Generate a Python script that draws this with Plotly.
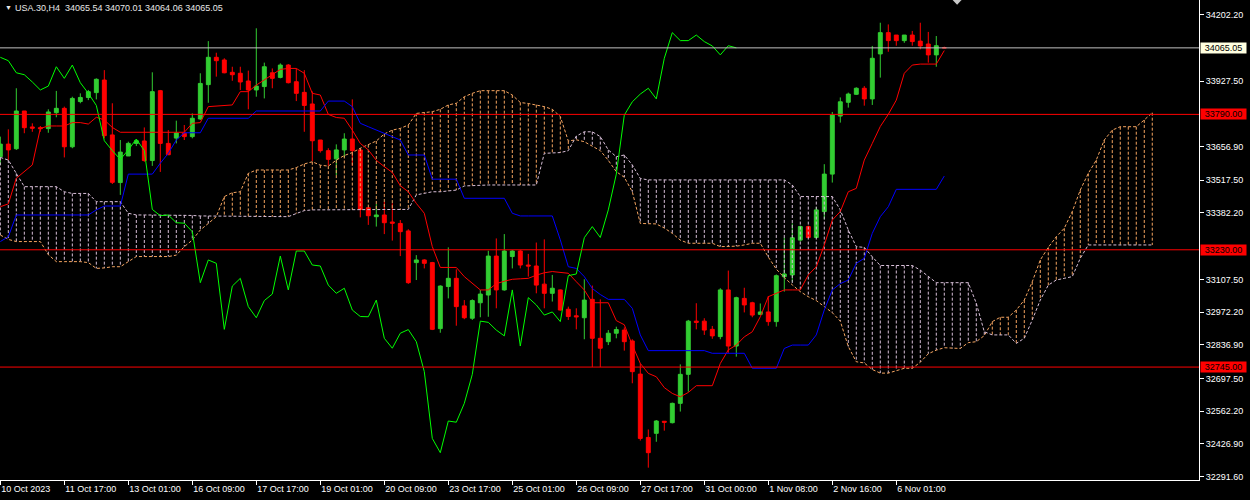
import plotly.graph_objects as go

# ---------------- data ----------------
opens = [33615, 33667, 33648, 33804, 33738, 33735, 33731, 33797, 33815, 33656,
         33843, 33860, 33880, 33932, 33705, 33508, 33618, 33670, 33680, 33599,
         33888, 33670, 33692, 33712, 33698, 33771, 33913, 34026, 34015, 33964,
         33960, 33928, 33891, 33905, 33962, 33943, 33994, 33925, 33881, 33833,
         33684, 33640, 33606, 33643, 33688, 33643, 33404, 33367, 33374, 33345,
         33339, 33308, 33177, 33188, 33177, 32904, 33078, 33112, 32998, 32947,
         33011, 33043, 33204, 33064, 33202, 33225, 33167, 33163, 33088, 33050,
         33064, 32984, 32957, 32949, 33025, 32864, 32850, 32885, 32898, 32853,
         32716, 32454, 32471, 32521, 32515, 32595, 32715, 32935, 32935, 32901,
         32871, 33064, 32832, 33029, 33011, 32963, 32973, 32933, 33119, 33126,
         33270, 33326, 33281, 33388, 33543, 33783, 33840, 33873, 33898, 33854,
         34040, 34128, 34118, 34095, 34118, 34093, 34081, 34036, 34065.54]
highs = [33698, 33728, 33898, 33804, 33753, 33742, 33811, 33887, 33822, 33863,
         33877, 33891, 33939, 33973, 33836, 33684, 33677, 33687, 33736, 33964,
         33891, 33725, 33764, 33746, 33794, 33960, 34093, 34045, 34022, 33987,
         33987, 33971, 34146, 34004, 33980, 34001, 33998, 33980, 33973, 33885,
         33684, 33650, 33666, 33712, 33852, 33650, 33404, 33419, 33429, 33422,
         33353, 33315, 33208, 33191, 33180, 33083, 33240, 33149, 33022, 33025,
         33064, 33226, 33277, 33295, 33229, 33229, 33213, 33260, 33273, 33126,
         33066, 32995, 32988, 33108, 33082, 33025, 32898, 32912, 32909, 32860,
         32760, 32487, 32526, 32522, 32598, 32756, 32940, 33009, 32947, 32915,
         33071, 33144, 33036, 33073, 33015, 33008, 33039, 33128, 33281, 33339,
         33330, 33330, 33406, 33584, 33800, 33860, 33880, 33902, 33907, 34073,
         34169, 34162, 34118, 34118, 34135, 34169, 34131, 34114, 34070.01]
lows = [33581, 33601, 33643, 33712, 33718, 33718, 33714, 33778, 33612, 33650,
        33836, 33849, 33852, 33691, 33502, 33457, 33618, 33659, 33594, 33577,
        33552, 33622, 33670, 33684, 33691, 33767, 33838, 33946, 33960, 33929,
        33891, 33811, 33863, 33856, 33898, 33939, 33918, 33845, 33718, 33597,
        33632, 33577, 33539, 33612, 33577, 33364, 33333, 33326, 33295, 33268,
        33204, 33089, 33105, 33153, 32898, 32887, 33029, 32916, 32943, 32940,
        32951, 32953, 32988, 33061, 33153, 33153, 33119, 33050, 32988, 33016,
        32978, 32940, 32901, 32860, 32745, 32745, 32836, 32864, 32813, 32678,
        32441, 32329, 32436, 32482, 32512, 32561, 32643, 32901, 32878, 32862,
        32860, 32804, 32788, 32971, 32951, 32960, 32916, 32912, 33057, 33098,
        33264, 33277, 33277, 33356, 33508, 33756, 33818, 33870, 33826, 33829,
        33942, 34049, 34074, 34086, 34074, 34059, 34004, 33987, 34064.06]
closes = [33667, 33643, 33804, 33735, 33733, 33731, 33800, 33815, 33656, 33856,
          33860, 33884, 33935, 33702, 33509, 33634, 33670, 33681, 33599, 33884,
          33670, 33623, 33713, 33698, 33774, 33918, 34026, 34012, 33962, 33954,
          33924, 33891, 33907, 33987, 33939, 33994, 33921, 33877, 33827, 33681,
          33640, 33604, 33643, 33688, 33640, 33397, 33371, 33374, 33342, 33340,
          33305, 33094, 33188, 33174, 32901, 33080, 33112, 32995, 32949, 33020,
          33047, 33204, 33064, 33225, 33225, 33167, 33163, 33084, 33050, 33071,
          32981, 32954, 32953, 33022, 32864, 32823, 32885, 32900, 32850, 32726,
          32450, 32391, 32522, 32517, 32595, 32715, 32935, 32930, 32898, 32874,
          33064, 32832, 33032, 33002, 32960, 32973, 32933, 33123, 33130, 33280,
          33326, 33281, 33395, 33543, 33787, 33842, 33874, 33898, 33854, 34022,
          34128, 34095, 34095, 34118, 34091, 34073, 34036, 34074, 34065.05]

tenkan = [33408, 33420, 33526, 33555, 33581, 33732, 33742, 33742, 33742, 33756,
          33756, 33750, 33778, 33767, 33736, 33716, 33716, 33716, 33716, 33716,
          33716, 33716, 33716, 33716, 33753, 33756, 33822, 33825, 33825, 33829,
          33884, 33884, 33911, 33932, 33953, 33976, 33980, 33980, 33960, 33877,
          33870, 33790, 33777, 33774, 33725, 33670, 33643, 33600, 33574, 33550,
          33495, 33470, 33422, 33381, 33243, 33157, 33157, 33157, 33119, 33090,
          33064, 33064, 33090, 33100, 33108, 33110, 33112, 33125, 33135, 33140,
          33135, 33133, 33098, 33064, 33011, 33011, 33011, 32937, 32920, 32836,
          32760, 32719, 32705, 32660, 32636, 32622, 32640, 32668, 32668, 32668,
          32760, 32816, 32836, 32870, 32891, 32953, 33036, 33050, 33064, 33064,
          33064, 33126, 33160, 33250, 33353, 33388, 33470, 33484, 33601, 33670,
          33740, 33790, 33849, 33960, 33994, 33998, 33998, 33998, 34054]
kijun = [33264, 33284, 33374, 33374, 33374, 33374, 33374, 33374, 33374, 33374,
         33374, 33374, 33395, 33411, 33411, 33411, 33543, 33543, 33543, 33543,
         33588, 33629, 33684, 33714, 33714, 33714, 33774, 33774, 33774, 33774,
         33774, 33774, 33804, 33804, 33804, 33804, 33804, 33804, 33804, 33804,
         33804, 33845, 33845, 33845, 33822, 33753, 33739, 33725, 33709, 33697,
         33684, 33622, 33622, 33622, 33522, 33522, 33522, 33522, 33443, 33443,
         33443, 33443, 33443, 33443, 33381, 33370, 33370, 33370, 33370, 33370,
         33271, 33160, 33153, 33119, 33070, 33045, 33025, 33025, 33025, 32988,
         32878, 32813, 32813, 32813, 32813, 32813, 32813, 32813, 32813, 32802,
         32802, 32802, 32802, 32802, 32740, 32740, 32740, 32740, 32822, 32836,
         32836, 32836, 32878, 32981, 33064, 33090, 33105, 33174, 33195, 33298,
         33367, 33408, 33480, 33480, 33480, 33480, 33480, 33480, 33535]
span_a = [33291, 33273, 33264, 33264, 33264, 33264, 33210, 33181, 33181, 33181,
          33181, 33177, 33153, 33155, 33160, 33160, 33181, 33202, 33202, 33202,
          33202, 33202, 33208, 33243, 33270, 33312, 33339, 33367, 33450, 33466,
          33470, 33546, 33560, 33560, 33560, 33560, 33560, 33570, 33585, 33594,
          33580, 33576, 33601, 33620, 33632, 33650, 33665, 33680, 33709, 33725,
          33732, 33746, 33794, 33798, 33801, 33811, 33829, 33836, 33863, 33877,
          33888, 33888, 33888, 33888, 33870, 33839, 33835, 33830, 33822, 33811,
          33781, 33680, 33685, 33677, 33660, 33640, 33600, 33553, 33530, 33470,
          33339, 33337, 33337, 33320, 33298, 33270, 33257, 33257, 33257, 33257,
          33243, 33243, 33245, 33250, 33257, 33257, 33200, 33150, 33115, 33085,
          33057, 33036, 33020, 32995, 32970, 32935, 32830, 32767, 32762, 32735,
          32720, 32720, 32730, 32740, 32740, 32765, 32800, 32815, 32825, 32822,
          32822, 32846, 32850, 32875, 32933, 32951, 32951, 32981, 33022, 33098,
          33188, 33240, 33284, 33319, 33388, 33477, 33546, 33601, 33684, 33725,
          33739, 33739, 33739, 33767, 33797]
span_b = [33612, 33601, 33546, 33491, 33491, 33491, 33491, 33491, 33470, 33463,
          33463, 33463, 33429, 33429, 33429, 33429, 33381, 33374, 33374, 33374,
          33374, 33374, 33374, 33374, 33372, 33370, 33370, 33367, 33367, 33367,
          33367, 33367, 33367, 33367, 33367, 33367, 33367, 33380, 33392, 33395,
          33395, 33395, 33395, 33395, 33395, 33395, 33395, 33395, 33395, 33395,
          33395, 33397, 33457, 33465, 33470, 33470, 33475, 33477, 33494, 33496,
          33498, 33498, 33498, 33498, 33498, 33498, 33498, 33498, 33629, 33630,
          33632, 33640, 33700, 33718, 33718, 33698, 33643, 33615, 33622, 33581,
          33525, 33519, 33519, 33519, 33519, 33519, 33519, 33519, 33519, 33519,
          33519, 33519, 33519, 33519, 33519, 33519, 33519, 33519, 33519, 33498,
          33450, 33450, 33450, 33450, 33450, 33395, 33312, 33243, 33240, 33201,
          33165, 33165, 33165, 33165, 33165, 33146, 33119, 33094, 33094, 33094,
          33094, 33094, 33009, 32891, 32878, 32878, 32878, 32843, 32864, 32940,
          33022, 33084, 33105, 33112, 33119, 33195, 33250, 33250, 33250, 33250,
          33250, 33250, 33250, 33250, 33250]
chikou_shift = 26

x_tick_index = [0, 8, 16, 24, 32, 40, 48, 56, 64, 72, 80, 88, 96, 104, 112]
x_tick_labels = ["10 Oct 2023", "11 Oct 17:00", "13 Oct 01:00", "16 Oct 09:00",
                 "17 Oct 17:00", "19 Oct 01:00", "20 Oct 09:00", "23 Oct 17:00",
                 "25 Oct 01:00", "26 Oct 09:00", "27 Oct 17:00", "31 Oct 00:00",
                 "1 Nov 08:00", "2 Nov 16:00", "6 Nov 01:00"]
y_tick_values = [34202.20, 33927.50, 33656.90, 33517.50, 33382.20, 33107.50,
                 32972.20, 32836.90, 32697.50, 32562.20, 32426.90, 32291.60]
level_prices = [33790.00, 33230.00, 32745.00]
bid_price = 34065.05
header = "USA.30,H4  34065.54 34070.01 34064.06 34065.05"

# ---------------- build figure ----------------
bar_index = list(range(len(closes)))
span_index = list(range(len(span_a)))

sandy_x, sandy_y, thistle_x, thistle_y = [], [], [], []
for i, a, b in zip(span_index, span_a, span_b):
    if a >= b:
        sandy_x += [i, i, None]
        sandy_y += [a, b, None]
    else:
        thistle_x += [i, i, None]
        thistle_y += [b, a, None]

SANDY = "#F4A460"
THISTLE = "#D8BFD8"
DASH = "3px,2px"

fig = go.Figure()
fig.add_trace(go.Scatter(x=sandy_x, y=sandy_y, mode="lines",
                         line=dict(color=SANDY, width=1, dash=DASH), connectgaps=False))
fig.add_trace(go.Scatter(x=thistle_x, y=thistle_y, mode="lines",
                         line=dict(color=THISTLE, width=1, dash=DASH), connectgaps=False))
fig.add_trace(go.Scatter(x=span_index, y=span_a, mode="lines",
                         line=dict(color=SANDY, width=1, dash=DASH)))
fig.add_trace(go.Scatter(x=span_index, y=span_b, mode="lines",
                         line=dict(color=THISTLE, width=1, dash=DASH)))

fig.add_trace(go.Candlestick(
    x=bar_index, open=opens, high=highs, low=lows, close=closes,
    increasing=dict(line=dict(color="#32CD32", width=1), fillcolor="#32CD32"),
    decreasing=dict(line=dict(color="#FF0000", width=1), fillcolor="#FF0000"),
    whiskerwidth=0))

fig.add_trace(go.Scatter(x=bar_index, y=tenkan, mode="lines",
                         line=dict(color="#FF0000", width=1)))
fig.add_trace(go.Scatter(x=bar_index, y=kijun, mode="lines",
                         line=dict(color="#0000FF", width=1)))
fig.add_trace(go.Scatter(x=[i - chikou_shift for i in bar_index[chikou_shift:]],
                         y=closes[chikou_shift:], mode="lines",
                         line=dict(color="#00FF00", width=1)))

shapes = []
for p in level_prices:
    shapes.append(dict(type="line", xref="paper", x0=0, x1=1, yref="y", y0=p, y1=p,
                       line=dict(color="#FF0000", width=1)))
shapes.append(dict(type="line", xref="paper", x0=0, x1=1, yref="y", y0=bid_price, y1=bid_price,
                   line=dict(color="#C0C0C0", width=1)))
# chart-shift marker
shapes.append(dict(type="path", xref="paper", yref="paper",
                   path="M 0.7945 1 L 0.8020 1 L 0.79825 0.990 Z",
                   fillcolor="#C8C8C8", line=dict(width=0)))

FONT = "Liberation Sans, Arial, sans-serif"
annotations = [
    dict(xref="paper", yref="paper", x=0, y=1, xanchor="left", yanchor="top",
         xshift=3, yshift=-2, text="▼", showarrow=False,
         font=dict(family=FONT, size=7, color="#E8E8E8")),
    dict(xref="paper", yref="paper", x=0, y=1, xanchor="left", yanchor="top",
         xshift=13, yshift=-1, text=header, showarrow=False,
         font=dict(family=FONT, size=9, color="#E8E8E8")),
]
for p in level_prices:
    annotations.append(dict(xref="paper", yref="y", x=1, y=p, xanchor="left", yanchor="middle",
                            xshift=1, text=f"{p:.2f}", showarrow=False, width=45, height=10,
                            bgcolor="#FF0000", borderpad=0,
                            font=dict(family=FONT, size=9, color="#000000")))
annotations.append(dict(xref="paper", yref="y", x=1, y=bid_price, xanchor="left", yanchor="middle",
                        xshift=1, text=f"{bid_price:.2f}", showarrow=False, width=45, height=10,
                        bgcolor="#FFFFE0", borderpad=0,
                        font=dict(family=FONT, size=9, color="#000000")))

fig.update_layout(
    width=1250, height=500,
    margin=dict(l=0, r=51, t=0, b=20, autoexpand=False),
    paper_bgcolor="#000000", plot_bgcolor="#000000",
    showlegend=False, hovermode=False,
    shapes=shapes, annotations=annotations,
    xaxis=dict(range=[-0.04, 149.84], showgrid=False, zeroline=False,
               showline=True, linecolor="#FFFFFF", linewidth=1,
               ticks="outside", ticklen=4, tickcolor="#FFFFFF",
               tickvals=x_tick_index, ticktext=x_tick_labels,
               ticklabelposition="outside right",
               tickfont=dict(family=FONT, size=9, color="#FFFFFF"),
               rangeslider=dict(visible=False), fixedrange=True),
    yaxis=dict(range=[32278, 34263], side="right", showgrid=False, zeroline=False,
               showline=True, linecolor="#FFFFFF", linewidth=1,
               ticks="outside", ticklen=4, tickcolor="#FFFFFF",
               tickvals=y_tick_values, ticktext=[f"{v:.2f}" for v in y_tick_values],
               tickfont=dict(family=FONT, size=9, color="#FFFFFF"), fixedrange=True),
)

fig.write_html("out.html", config={"displayModeBar": False},
               post_script="document.body.style.margin='0';document.body.style.padding='0';"
                           "document.body.style.background='#000';")
